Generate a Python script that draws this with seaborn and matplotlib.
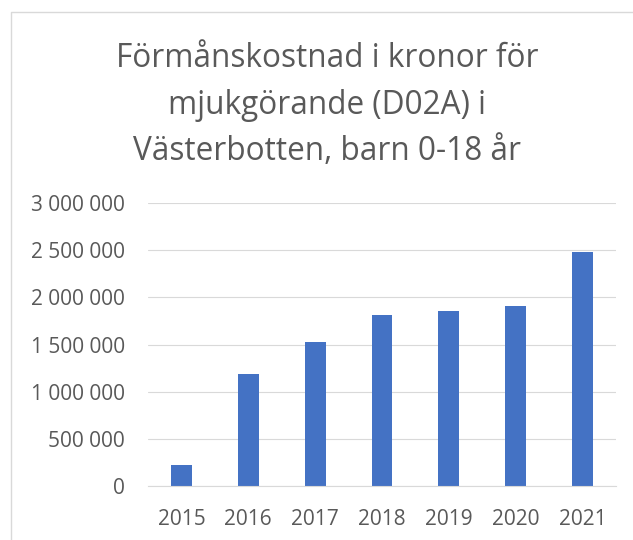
import matplotlib
matplotlib.use('Agg')
import matplotlib.pyplot as plt
import seaborn as sns
from matplotlib.lines import Line2D
from matplotlib.ticker import FuncFormatter

# Data
years = ['2015', '2016', '2017', '2018', '2019', '2020', '2021']
cost = [226000, 1190000, 1529000, 1811000, 1860000, 1907000, 2479000]
yticks = [0, 500000, 1000000, 1500000, 2000000, 2500000, 3000000]
title_lines = ['Förmånskostnad i kronor för', 'mjukgörande (D02A) i', 'Västerbotten, barn 0-18 år']

sns.set_style('white')
plt.rcParams['font.family'] = ['Open Sans', 'DejaVu Sans']

text_grey = '#595959'
grid_grey = '#D9D9D9'

fig = plt.figure(figsize=(6.33, 5.40), dpi=100)
ax = fig.add_axes([148 / 633, 1 - 486.3 / 540, 468 / 633, (486.3 - 203) / 540])

sns.barplot(x=years, y=cost, color='#4472C4', saturation=1, width=0.313,
            linewidth=0, ax=ax)

ax.set_xlim(-0.5, 6.5)
ax.set_ylim(0, 3000000)
ax.set_yticks(yticks)
ax.yaxis.set_major_formatter(FuncFormatter(lambda v, p: f'{v:,.0f}'.replace(',', ' ')))
ax.yaxis.grid(True, color=grid_grey, linewidth=0.8)
ax.set_axisbelow(True)
for s in ['top', 'right', 'left']:
    ax.spines[s].set_visible(False)
ax.spines['bottom'].set_color(grid_grey)
ax.spines['bottom'].set_linewidth(0.8)
ax.tick_params(axis='y', length=0, pad=16.5, labelsize=15, labelcolor=text_grey)
ax.tick_params(axis='x', length=0, pad=16, labelsize=15, labelcolor=text_grey)
ax.set_xlabel('')
ax.set_ylabel('')

# Title, three centred lines
baselines = [67, 113.5, 160]
for line, yb in zip(title_lines, baselines):
    fig.text(327 / 633, 1 - yb / 540, line, ha='center', va='baseline',
             fontsize=22.7, color=text_grey)

# Chart-area border (left and top visible)
fig.add_artist(Line2D([11 / 633, 11 / 633, 1.0], [0.0, 1 - 12 / 540, 1 - 12 / 540],
                      transform=fig.transFigure, color=grid_grey, linewidth=1.0))

fig.savefig('out.png', dpi=100)
